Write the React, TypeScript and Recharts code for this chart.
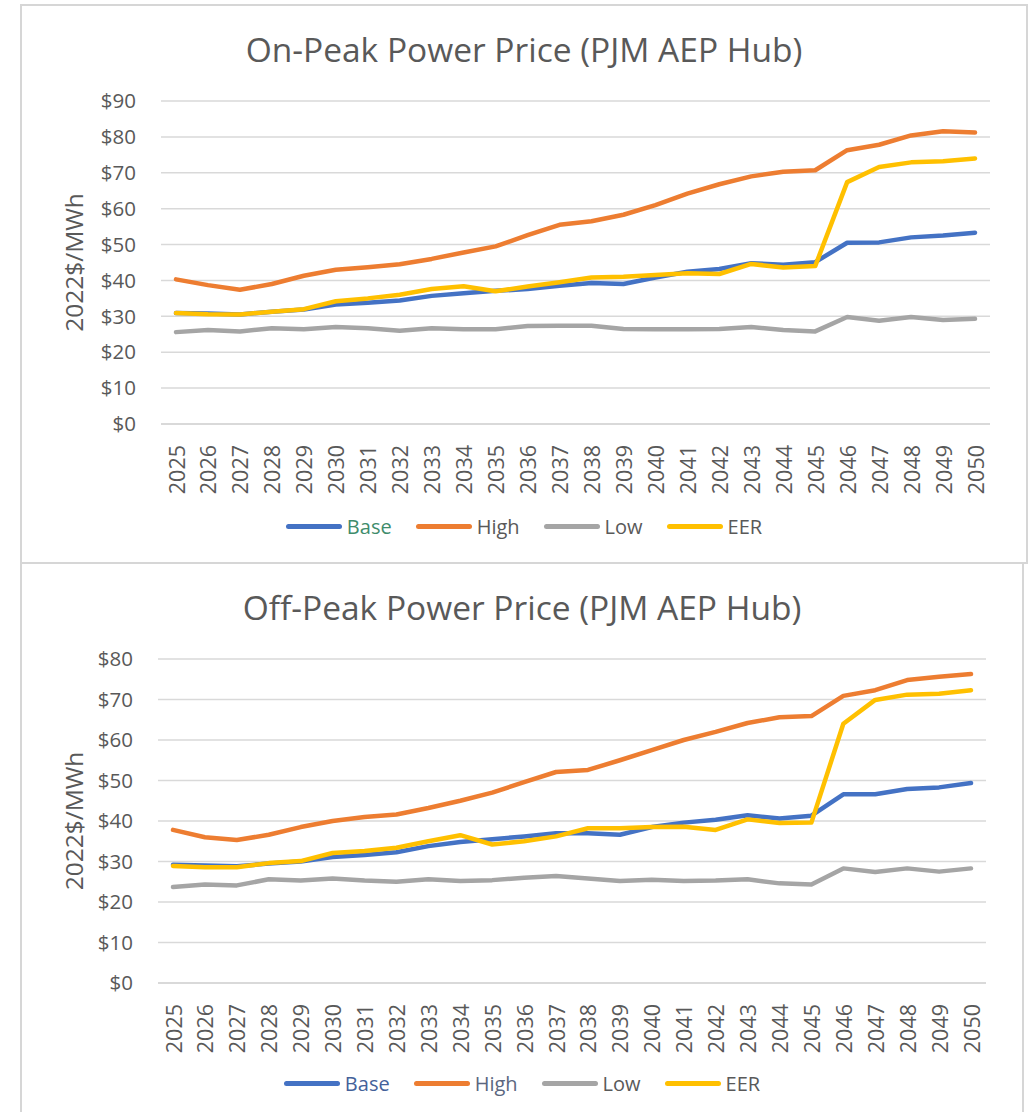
import { CartesianGrid, Line, LineChart, XAxis, YAxis } from "recharts"

const years = [
  2025, 2026, 2027, 2028, 2029, 2030, 2031, 2032, 2033, 2034, 2035, 2036, 2037,
  2038, 2039, 2040, 2041, 2042, 2043, 2044, 2045, 2046, 2047, 2048, 2049, 2050,
]

// On-Peak, 2022$/MWh
const onBase = [30.9, 30.8, 30.5, 31.3, 31.9, 33.3, 33.8, 34.4, 35.7, 36.4, 37.1, 37.6, 38.5, 39.3, 39.0, 40.8, 42.4, 43.2, 44.8, 44.4, 45.1, 50.5, 50.6, 52.0, 52.5, 53.3]
const onHigh = [40.3, 38.7, 37.4, 39.0, 41.3, 43.0, 43.7, 44.5, 46.0, 47.8, 49.5, 52.6, 55.5, 56.5, 58.3, 61.0, 64.2, 66.8, 69.0, 70.3, 70.7, 76.3, 77.8, 80.4, 81.6, 81.2]
const onLow = [25.6, 26.2, 25.8, 26.7, 26.4, 27.0, 26.7, 26.0, 26.7, 26.4, 26.4, 27.3, 27.4, 27.4, 26.5, 26.4, 26.4, 26.5, 27.0, 26.2, 25.8, 29.8, 28.8, 29.8, 29.0, 29.3]
const onEer = [30.9, 30.6, 30.5, 31.3, 32.0, 34.2, 35.0, 36.0, 37.6, 38.4, 37.0, 38.3, 39.5, 40.8, 41.0, 41.5, 42.0, 41.8, 44.6, 43.6, 44.0, 67.4, 71.6, 72.9, 73.2, 74.0]

// Off-Peak, 2022$/MWh
const offBase = [29.2, 29.0, 28.8, 29.5, 30.0, 31.1, 31.6, 32.3, 33.8, 34.8, 35.5, 36.2, 37.0, 37.0, 36.6, 38.5, 39.6, 40.3, 41.4, 40.6, 41.3, 46.6, 46.6, 47.9, 48.3, 49.4]
const offHigh = [37.8, 36.0, 35.3, 36.6, 38.5, 40.0, 41.0, 41.6, 43.2, 45.0, 47.0, 49.6, 52.1, 52.6, 55.0, 57.5, 60.0, 62.0, 64.2, 65.6, 65.9, 70.9, 72.3, 74.8, 75.6, 76.3]
const offLow = [23.7, 24.3, 24.1, 25.6, 25.3, 25.8, 25.3, 25.0, 25.6, 25.2, 25.4, 26.0, 26.4, 25.8, 25.2, 25.5, 25.2, 25.3, 25.6, 24.6, 24.3, 28.3, 27.4, 28.3, 27.5, 28.3]
const offEer = [28.9, 28.6, 28.6, 29.6, 30.1, 32.1, 32.6, 33.4, 35.0, 36.5, 34.2, 35.0, 36.2, 38.2, 38.2, 38.5, 38.6, 37.8, 40.4, 39.5, 39.6, 64.0, 69.9, 71.2, 71.4, 72.3]

const onTicks = [0, 10, 20, 30, 40, 50, 60, 70, 80, 90]
const offTicks = [0, 10, 20, 30, 40, 50, 60, 70, 80]

const series = [
  { key: "Base", color: "#4472C4" },
  { key: "High", color: "#ED7D31" },
  { key: "Low", color: "#A5A5A5" },
  { key: "EER", color: "#FFC000" },
]

const FONT = "'Open Sans', 'Noto Sans', sans-serif"
const TEXT = "#595959"

const buildRows = (base: number[], high: number[], low: number[], eer: number[]) =>
  years.map((y, i) => ({ year: String(y), Base: base[i], High: high[i], Low: low[i], EER: eer[i] }))

function YearTick({ x, y, payload }: any) {
  return (
    <text
      x={x}
      y={y}
      transform={`rotate(-90 ${x} ${y})`}
      textAnchor="end"
      dominantBaseline="central"
      fill={TEXT}
      fontSize={21.5}
      fontFamily={FONT}
    >
      {payload.value}
    </text>
  )
}

function PricePanel(props: any) {
  const { title, rows, yMax, ticks, left, top, width, height, margin, yWidth, legendTop, legendColors } = props
  return (
    <div
      style={{
        position: "absolute",
        left,
        top,
        width,
        height,
        boxSizing: "border-box",
        border: "2px solid #d6d6d6",
        background: "#fff",
      }}
    >
      <div
        style={{
          position: "absolute",
          left: 0,
          width: "100%",
          top: 20,
          textAlign: "center",
          fontFamily: FONT,
          fontSize: 33.5,
          color: TEXT,
          whiteSpace: "nowrap",
        }}
      >
        {title}
      </div>
      <div style={{ position: "absolute", left: -2, top: -2 }}>
        <LineChart width={width} height={height} data={rows} margin={margin}>
          <CartesianGrid vertical={false} stroke="#d9d9d9" strokeWidth={1.5} />
          <XAxis
            dataKey="year"
            height={60}
            interval={0}
            tickLine={false}
            axisLine={{ stroke: "#d9d9d9", strokeWidth: 2 }}
            tickSize={0}
            tickMargin={21}
            padding={{ left: 15, right: 15 }}
            tick={<YearTick />}
          />
          <YAxis
            width={yWidth}
            domain={[0, yMax]}
            ticks={ticks}
            interval={0}
            tickLine={false}
            axisLine={false}
            tickSize={0}
            tickMargin={25}
            tickFormatter={(v) => `$${v}`}
            tick={{ fill: TEXT, fontSize: 20.5, fontFamily: FONT }}
            label={{
              content: ({ viewBox }: any) => {
                const cx = viewBox.x + 53
                const cy = viewBox.y + viewBox.height / 2
                return (
                  <text
                    x={cx}
                    y={cy}
                    transform={`rotate(-90 ${cx} ${cy})`}
                    textAnchor="middle"
                    dominantBaseline="central"
                    fill={TEXT}
                    fontSize={24.5}
                    fontFamily={FONT}
                  >
                    2022$/MWh
                  </text>
                )
              },
            }}
          />
          {series.map((s) => (
            <Line
              key={s.key}
              type="linear"
              dataKey={s.key}
              stroke={s.color}
              strokeWidth={4.5}
              strokeLinejoin="round"
              strokeLinecap="round"
              dot={false}
              activeDot={false}
              isAnimationActive={false}
            />
          ))}
        </LineChart>
      </div>
      <div
        style={{
          position: "absolute",
          left: 0,
          width: "100%",
          top: legendTop,
          display: "flex",
          justifyContent: "center",
          gap: 24,
          fontFamily: FONT,
          fontSize: 20,
        }}
      >
        {series.map((s, i) => (
          <div key={s.key} style={{ display: "flex", alignItems: "center" }}>
            <span
              style={{
                display: "inline-block",
                width: 56,
                height: 5,
                borderRadius: 3,
                background: s.color,
                marginRight: 5,
              }}
            />
            <span style={{ color: legendColors[i] }}>{s.key}</span>
          </div>
        ))}
      </div>
    </div>
  )
}

export default function App() {
  const onRows = buildRows(onBase, onHigh, onLow, onEer)
  const offRows = buildRows(offBase, offHigh, offLow, offEer)
  return (
    <div style={{ position: "absolute", left: 0, top: 0, width: 1030, height: 1112, background: "#fff", overflow: "hidden" }}>
      <PricePanel
        title="On-Peak Power Price (PJM AEP Hub)"
        rows={onRows}
        yMax={90}
        ticks={onTicks}
        left={20}
        top={4}
        width={1008}
        height={560}
        margin={{ top: 97, right: 38, left: 0, bottom: 80 }}
        yWidth={141}
        legendTop={507}
        legendColors={["#3f8c6c", TEXT, TEXT, TEXT]}
      />
      <PricePanel
        title="Off-Peak Power Price (PJM AEP Hub)"
        rows={offRows}
        yMax={80}
        ticks={offTicks}
        left={20}
        top={562}
        width={1004}
        height={560}
        margin={{ top: 97, right: 38, left: 0, bottom: 79 }}
        yWidth={138}
        legendTop={506}
        legendColors={["#44619a", "#5b6780", TEXT, TEXT]}
      />
    </div>
  )
}
